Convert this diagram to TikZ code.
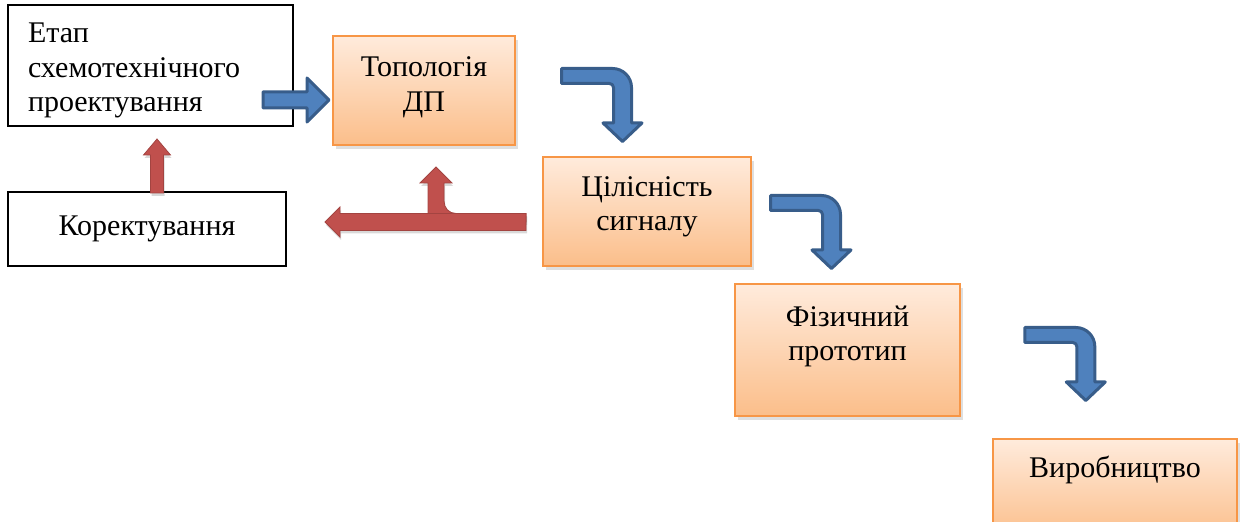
\documentclass[tikz,border=0pt]{standalone}
\usepackage{fontspec}
\setmainfont{Liberation Serif}
\usetikzlibrary{shadows}

\definecolor{blockfill}{HTML}{4F81BD}
\definecolor{blockline}{HTML}{385D8A}
\definecolor{backfill}{HTML}{C0504D}
\definecolor{stageline}{HTML}{F79646}
\definecolor{stagetop}{HTML}{FFEBDC}
\definecolor{stagebottom}{HTML}{FBBE8A}

\begin{document}
\begin{tikzpicture}[x=0.5pt,y=-0.5pt,
        font=\fontsize{15}{17.2}\selectfont,
        plain box/.style={rectangle,draw=black,line width=0.7pt,fill=white,inner sep=0pt,align=center},
        stage box/.style={rectangle,draw=stageline,line width=1pt,top color=stagetop,bottom color=stagebottom,
            inner sep=0pt,align=center,drop shadow={shadow xshift=1.5pt,shadow yshift=-2pt,opacity=0.25}},
        blue arrow/.style={fill=blockfill,draw=blockline,line width=1.5pt,line join=round},
        red arrow/.style={fill=backfill,draw=backfill!85!black,line width=0.4pt,
            drop shadow={shadow xshift=0.5pt,shadow yshift=-1.5pt,opacity=0.3}},
        bent/.pic={\draw[blue arrow] (0,0) -- (51,0) .. controls (61.5,0) and (70,8.5) .. (70,19) -- (70,54.5)
            -- (80.5,54.5) -- (61,73) -- (41.5,54.5) -- (52,54.5) -- (52,19) .. controls (52,16.8) and (50.2,15) .. (48,15)
            -- (0,15) -- cycle;}]

    \useasboundingbox (0,0) rectangle (1240,522);
    \clip (0,0) rectangle (1240,522);

    \node[plain box, align=left, text width=122.5pt, inner xsep=10pt, minimum width=142.5pt, minimum height=60.5pt,
        text height=15pt] (etap) at (150.5,65.5) {Етап\\схемотехнічного\\проектування};
    \node[plain box, minimum width=139pt, minimum height=37pt] (korekt) at (147,229) {Коректування};

    \node[stage box, minimum width=91pt, minimum height=54.5pt, text depth=6.5pt] (topol) at (424,90.5) {Топологія\\ДП};
    \node[stage box, minimum width=104pt, minimum height=54.5pt, text depth=8pt] (tsilis) at (647,211.5) {Цілісність\\сигналу};
    \node[stage box, minimum width=112.5pt, minimum height=66pt, text depth=16.5pt] (fizych) at (847.5,350) {Фізичний\\прототип};
    \node[stage box, minimum width=122pt, minimum height=50pt, text depth=22pt] (vyrob) at (1115,489) {Виробництво};

    \draw[blue arrow] (263,92) -- (307,92) -- (307,78) -- (329,100) -- (307,122) -- (307,108) -- (263,108) -- cycle;
    \pic at (561.5,68.5) {bent};
    \pic at (770.5,195.5) {bent};
    \pic at (1024.8,327.5) {bent};

    \draw[red arrow] (150.5,193) -- (150.5,155) -- (143.5,155) -- (157,139) -- (170.5,155) -- (163.5,155) -- (163.5,193) -- cycle;
    \draw[red arrow] (428,222) -- (428,183) -- (420,183) -- (436,167) -- (452,183) -- (444,183) -- (444,201)
        .. controls (444,208) and (449,213.5) .. (456,213.5) -- (526,213.5) -- (526,222) -- cycle;
    \draw[red arrow] (526,213.5) -- (340,213.5) -- (340,207) -- (325,222) -- (340,237) -- (340,230.5) -- (526,230.5) -- cycle;

\end{tikzpicture}
\end{document}
